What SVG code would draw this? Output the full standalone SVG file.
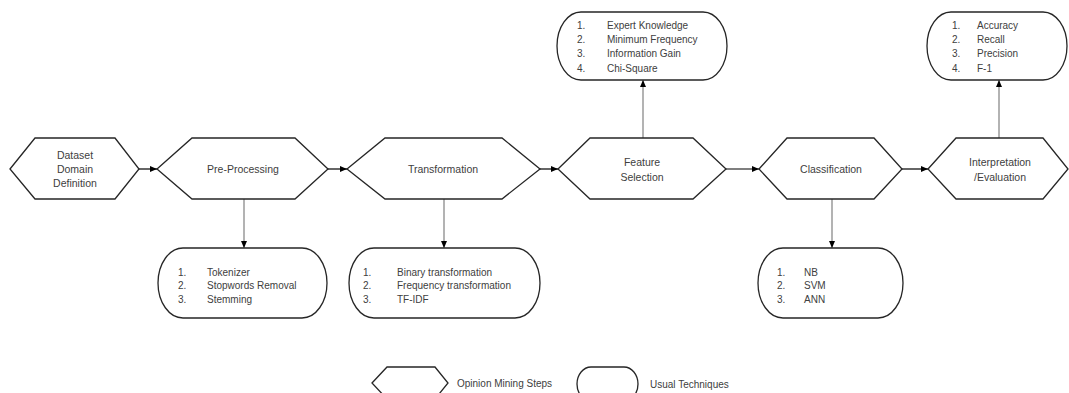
<svg xmlns="http://www.w3.org/2000/svg" width="1069" height="393" viewBox="0 0 1069 393">
<defs>
<style>
.hex{fill:#fff;stroke:#262626;stroke-width:1.3}
.box{fill:#fff;stroke:#262626;stroke-width:1.3}
.t{font-family:"Liberation Sans",Arial,sans-serif;font-size:10.5px;fill:#404040;text-anchor:middle;dominant-baseline:central}
.l{font-family:"Liberation Sans",Arial,sans-serif;font-size:10px;fill:#404040;dominant-baseline:central}
.h{stroke:#000;stroke-width:1.2;fill:none}
.v{stroke:#808080;stroke-width:1.2;fill:none}
</style>
<marker id="ah" markerWidth="8" markerHeight="8" refX="7" refY="4" orient="auto" markerUnits="userSpaceOnUse">
<path d="M0,1 L7,4 L0,7 Z" fill="#000"/>
</marker>
</defs>
<rect width="1069" height="393" fill="#fff"/>
<g id="connectors">
<line class="h" x1="139" y1="169" x2="157" y2="169" marker-end="url(#ah)"/>
<line class="h" x1="328" y1="169" x2="347" y2="169" marker-end="url(#ah)"/>
<line class="h" x1="540" y1="169" x2="558" y2="169" marker-end="url(#ah)"/>
<line class="h" x1="726" y1="169" x2="759" y2="169" marker-end="url(#ah)"/>
<line class="h" x1="902" y1="169" x2="928" y2="169" marker-end="url(#ah)"/>
<line class="v" x1="244" y1="199" x2="244" y2="248" marker-end="url(#ah)"/>
<line class="v" x1="444" y1="199" x2="444" y2="248" marker-end="url(#ah)"/>
<line class="v" x1="832" y1="199" x2="832" y2="248" marker-end="url(#ah)"/>
<line class="v" x1="643" y1="138" x2="643" y2="80" marker-end="url(#ah)"/>
<line class="v" x1="999" y1="138" x2="999" y2="80" marker-end="url(#ah)"/>
</g>
<g id="dataset">
<polygon class="hex" points="10,169 35,138 115,138 139,169 115,199 35,199"/>
<text class="t" x="75" y="155">Dataset</text>
<text class="t" x="75" y="169">Domain</text>
<text class="t" x="75" y="183">Definition</text>
</g>
<g id="preprocessing">
<polygon class="hex" points="157,169 192,138 295,138 328,169 295,199 192,199"/>
<text class="t" x="243" y="169">Pre-Processing</text>
</g>
<g id="transformation">
<polygon class="hex" points="347,169 385,138 502,138 540,169 502,199 385,199"/>
<text class="t" x="443" y="169">Transformation</text>
</g>
<g id="featureselection">
<polygon class="hex" points="558,169 590,138 693,138 726,169 693,199 590,199"/>
<text class="t" x="642" y="162">Feature</text>
<text class="t" x="642" y="177">Selection</text>
</g>
<g id="classification">
<polygon class="hex" points="759,169 787,138 874,138 902,169 874,199 787,199"/>
<text class="t" x="831" y="169">Classification</text>
</g>
<g id="interpretation">
<polygon class="hex" points="928,169 956,138 1043,138 1068,169 1043,199 956,199"/>
<text class="t" x="1000" y="162">Interpretation</text>
<text class="t" x="1000" y="177">/Evaluation</text>
</g>
<g id="fs-techniques">
<rect class="box" x="557" y="12" width="170" height="68" rx="24" ry="34"/>
<text class="l" x="577" y="25">1.</text><text class="l" x="607" y="25">Expert Knowledge</text>
<text class="l" x="577" y="39">2.</text><text class="l" x="607" y="39">Minimum Frequency</text>
<text class="l" x="577" y="53">3.</text><text class="l" x="607" y="53">Information Gain</text>
<text class="l" x="577" y="68">4.</text><text class="l" x="607" y="68">Chi-Square</text>
</g>
<g id="eval-techniques">
<rect class="box" x="927" y="12" width="140" height="68" rx="24" ry="34"/>
<text class="l" x="952" y="25">1.</text><text class="l" x="977" y="25">Accuracy</text>
<text class="l" x="952" y="39">2.</text><text class="l" x="977" y="39">Recall</text>
<text class="l" x="952" y="53">3.</text><text class="l" x="977" y="53">Precision</text>
<text class="l" x="952" y="68">4.</text><text class="l" x="977" y="68">F-1</text>
</g>
<g id="pre-techniques">
<rect class="box" x="158" y="248" width="169" height="70" rx="25" ry="35"/>
<text class="l" x="178" y="272">1.</text><text class="l" x="207" y="272">Tokenizer</text>
<text class="l" x="178" y="285">2.</text><text class="l" x="207" y="285">Stopwords Removal</text>
<text class="l" x="178" y="299">3.</text><text class="l" x="207" y="299">Stemming</text>
</g>
<g id="trans-techniques">
<rect class="box" x="349" y="248" width="191" height="70" rx="25" ry="35"/>
<text class="l" x="363" y="272">1.</text><text class="l" x="397" y="272">Binary transformation</text>
<text class="l" x="363" y="285">2.</text><text class="l" x="397" y="285">Frequency transformation</text>
<text class="l" x="363" y="299">3.</text><text class="l" x="397" y="299">TF-IDF</text>
</g>
<g id="class-techniques">
<rect class="box" x="758" y="248" width="145" height="70" rx="25" ry="35"/>
<text class="l" x="777" y="272">1.</text><text class="l" x="804" y="272">NB</text>
<text class="l" x="777" y="285">2.</text><text class="l" x="804" y="285">SVM</text>
<text class="l" x="777" y="299">3.</text><text class="l" x="804" y="299">ANN</text>
</g>
<g id="legend">
<polygon class="hex" points="372,383 387,367 435,367 448,383 435,399 387,399"/>
<text class="l" x="457" y="383">Opinion Mining Steps</text>
<rect class="box" x="577" y="367" width="61" height="34" rx="14" ry="17"/>
<text class="l" x="650" y="384">Usual Techniques</text>
</g>
</svg>
